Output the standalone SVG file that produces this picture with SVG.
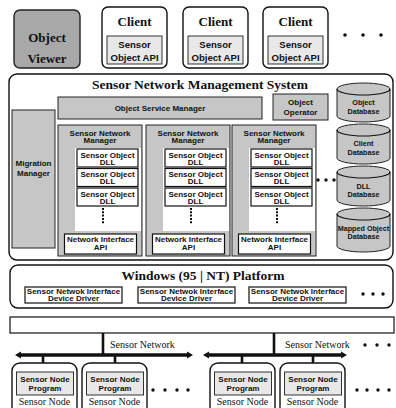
<svg xmlns="http://www.w3.org/2000/svg" width="396" height="408" viewBox="0 0 396 408">
  <style>
    .ln { fill: none; stroke: #111; stroke-width: 1.2; }
    .grey { fill: #c6c6c6; stroke: #222; stroke-width: 1; }
    .dark { fill: #a8a8a8; stroke: #222; stroke-width: 1.4; }
    .light { fill: #e8e8e8; stroke: #333; stroke-width: 1; }
    .white { fill: #fff; stroke: #111; stroke-width: 1.2; }
    .panel { fill: #fff; stroke: none; }
    .frame { fill: #fff; stroke: #111; stroke-width: 1.4; }
    .title { font-family: "Liberation Serif", "Times New Roman", serif; font-weight: bold; font-size: 13.5px; fill: #111; text-anchor: middle; }
    .head { font-family: "Liberation Serif", "Times New Roman", serif; font-weight: bold; font-size: 13px; fill: #111; text-anchor: middle; }
    .lbl { font-family: "Liberation Sans", Arial, sans-serif; font-weight: bold; font-size: 8px; fill: #111; text-anchor: middle; }
    .lbl9 { font-family: "Liberation Sans", Arial, sans-serif; font-weight: bold; font-size: 9.6px; fill: #111; text-anchor: middle; }
    .db { font-family: "Liberation Sans", Arial, sans-serif; font-weight: bold; font-size: 7.2px; fill: #111; text-anchor: middle; }
    .ser { font-family: "Liberation Serif", "Times New Roman", serif; font-size: 10px; fill: #111; }
    .dot { fill: #111; }
    .wire { stroke: #111; stroke-width: 2.6; fill: none; }
    .dash { stroke: #111; stroke-width: 2; stroke-dasharray: 2 1.3; fill: none; }
  </style>
  <defs>
    <!-- one Sensor Network Manager block, drawn at the origin -->
    <g id="snm">
      <rect class="grey" x="0" y="0" width="84" height="131"/>
      <rect class="panel" x="17" y="23" width="66" height="83"/>
      <text class="lbl" x="42" y="10.5">Sensor Network</text>
      <text class="lbl" x="42" y="18">Manager</text>
      <rect class="white" x="19" y="24" width="61" height="18"/>
      <text class="lbl" x="49.5" y="32.5">Sensor Object</text>
      <text class="lbl" x="49.5" y="39.5">DLL</text>
      <rect class="white" x="19" y="43.5" width="61" height="18"/>
      <text class="lbl" x="49.5" y="52">Sensor Object</text>
      <text class="lbl" x="49.5" y="59">DLL</text>
      <rect class="white" x="19" y="63" width="61" height="18"/>
      <text class="lbl" x="49.5" y="71.5">Sensor Object</text>
      <text class="lbl" x="49.5" y="78.5">DLL</text>
      <line class="dash" x1="45" y1="83" x2="45" y2="99"/>
      <rect class="white" x="6.5" y="109" width="72" height="20" stroke-width="1.6"/>
      <text class="lbl" x="42.5" y="117">Network Interface</text>
      <text class="lbl" x="42.5" y="124.5">API</text>
    </g>
    <!-- client application with its API box -->
    <g id="client">
      <rect class="frame" x="0" y="0" width="65" height="61" rx="6"/>
      <text class="head" x="32.5" y="19">Client</text>
      <rect class="light" x="5" y="29" width="55" height="28"/>
      <text class="lbl9" x="32.5" y="41">Sensor</text>
      <text class="lbl9" x="32.5" y="54">Object API</text>
    </g>
    <!-- sensor node with its program -->
    <g id="node">
      <rect class="frame" x="0" y="0" width="65" height="60" rx="8"/>
      <rect class="light" x="4.5" y="9" width="57" height="23" stroke-width="1.3"/>
      <text class="lbl" x="33" y="18.5">Sensor Node</text>
      <text class="lbl" x="33" y="28">Program</text>
      <text class="ser" x="32.5" y="42" text-anchor="middle">Sensor Node</text>
    </g>
    <!-- driver box -->
    <g id="drv">
      <rect class="white" x="0" y="0" width="97" height="16" stroke-width="1"/>
      <text class="lbl" x="48.5" y="7.2">Sensor Netwok Interface</text>
      <text class="lbl" x="48.5" y="14.4">Device Driver</text>
    </g>
  </defs>

  <!-- top row: viewer and clients -->
  <g id="object-viewer">
    <rect class="dark" x="14" y="10" width="66" height="58" rx="6"/>
    <text class="head" x="47" y="42" font-size="14.5">Object</text>
    <text class="head" x="47" y="63" font-size="14.5">Viewer</text>
  </g>
  <g id="client-1"><use href="#client" x="102" y="7"/></g>
  <g id="client-2"><use href="#client" x="183" y="7"/></g>
  <g id="client-3"><use href="#client" x="263" y="7"/></g>
  <g id="client-more">
    <circle class="dot" cx="345" cy="35" r="1.8"/>
    <circle class="dot" cx="363" cy="35" r="1.8"/>
    <circle class="dot" cx="381" cy="35" r="1.8"/>
  </g>

  <!-- management system -->
  <g id="sensor-network-management-system">
    <rect class="frame" x="9" y="74" width="384" height="186" rx="8"/>
    <text class="title" x="200" y="89">Sensor Network Management System</text>
  </g>
  <g id="object-service-manager">
    <rect class="grey" x="58" y="97" width="204" height="22"/>
    <text class="lbl" x="160" y="111">Object Service Manager</text>
  </g>
  <g id="object-operator">
    <rect class="grey" x="273" y="94" width="55" height="26"/>
    <text class="lbl" x="300.5" y="105">Object</text>
    <text class="lbl" x="300.5" y="115">Operator</text>
  </g>
  <g id="migration-manager">
    <rect class="grey" x="12" y="110" width="43" height="138"/>
    <text class="lbl" x="33.5" y="166">Migration</text>
    <text class="lbl" x="33.5" y="175.5">Manager</text>
  </g>
  <g id="snm-1"><use href="#snm" x="58" y="125"/></g>
  <g id="snm-2"><use href="#snm" x="146" y="125"/></g>
  <g id="snm-3"><use href="#snm" x="232" y="125"/></g>
  <g id="snm-more">
    <circle class="dot" cx="318" cy="180" r="1.7"/>
    <circle class="dot" cx="326" cy="180" r="1.7"/>
    <circle class="dot" cx="334" cy="180" r="1.7"/>
  </g>

  <!-- databases -->
  <g id="object-database">
    <path class="grey" d="M337,89 A26.5,6 0 0 1 390,89 L390,116 A26.5,6 0 0 1 337,116 Z"/>
    <path class="ln" d="M337,89 A26.5,6 0 0 0 390,89"/>
    <text class="db" x="363.5" y="104.5">Object</text>
    <text class="db" x="363.5" y="114">Database</text>
  </g>
  <g id="client-database">
    <path class="grey" d="M337,130 A26.5,6 0 0 1 390,130 L390,158 A26.5,6 0 0 1 337,158 Z"/>
    <path class="ln" d="M337,130 A26.5,6 0 0 0 390,130"/>
    <text class="db" x="363.5" y="145.5">Client</text>
    <text class="db" x="363.5" y="154.5">Database</text>
  </g>
  <g id="dll-database">
    <path class="grey" d="M337,172 A26.5,6 0 0 1 390,172 L390,200 A26.5,6 0 0 1 337,200 Z"/>
    <path class="ln" d="M337,172 A26.5,6 0 0 0 390,172"/>
    <text class="db" x="363.5" y="188.5">DLL</text>
    <text class="db" x="363.5" y="197">Database</text>
  </g>
  <g id="mapped-object-database">
    <path class="grey" d="M337,214 A26.5,6 0 0 1 390,214 L390,246 A26.5,6 0 0 1 337,246 Z"/>
    <path class="ln" d="M337,214 A26.5,6 0 0 0 390,214"/>
    <text class="db" x="363.5" y="231">Mapped Object</text>
    <text class="db" x="363.5" y="239">Database</text>
  </g>

  <!-- operating system layer -->
  <g id="windows-platform">
    <rect class="frame" x="10" y="265" width="383" height="43" rx="8"/>
    <text class="title" x="203" y="279.5" font-size="13px">Windows (95 | NT) Platform</text>
  </g>
  <g id="driver-1"><use href="#drv" x="25" y="287"/></g>
  <g id="driver-2"><use href="#drv" x="138" y="287"/></g>
  <g id="driver-3"><use href="#drv" x="249" y="287"/></g>
  <g id="driver-more">
    <circle class="dot" cx="363" cy="294" r="1.7"/>
    <circle class="dot" cx="373" cy="294" r="1.7"/>
    <circle class="dot" cx="383" cy="294" r="1.7"/>
  </g>
  <g id="hardware-interface">
    <rect class="white" x="10" y="317" width="384" height="16"/>
  </g>

  <!-- connectors: uplinks, network buses and node drops -->
  <g id="connectors">
    <line class="wire" x1="103" y1="333" x2="103" y2="355"/>
    <line class="wire" x1="274" y1="333" x2="274" y2="355"/>
    <path fill="#111" d="M15,355 L21,351.5 L21,353.2 L187,353.2 L187,351.5 L193,355 L187,358.5 L187,356.8 L21,356.8 L21,358.5 Z"/>
    <path fill="#111" d="M203,355 L209,351.5 L209,353.2 L341,353.2 L341,351.5 L347,355 L341,358.5 L341,356.8 L209,356.8 L209,358.5 Z"/>
    <line class="wire" x1="43" y1="356" x2="43" y2="364"/>
    <line class="wire" x1="115" y1="356" x2="115" y2="364"/>
    <line class="wire" x1="242" y1="356" x2="242" y2="364"/>
    <line class="wire" x1="313" y1="356" x2="313" y2="364"/>
  </g>
  <g id="network-labels">
    <text class="ser" x="110" y="348">Sensor Network</text>
    <text class="ser" x="285" y="348">Sensor Network</text>
    <circle class="dot" cx="365" cy="345" r="1.7"/>
    <circle class="dot" cx="377" cy="345" r="1.7"/>
    <circle class="dot" cx="389" cy="345" r="1.7"/>
  </g>

  <!-- sensor nodes -->
  <g id="node-1"><use href="#node" x="12" y="363"/></g>
  <g id="node-2"><use href="#node" x="82" y="363"/></g>
  <g id="node-3"><use href="#node" x="210" y="363"/></g>
  <g id="node-4"><use href="#node" x="280" y="363"/></g>
  <g id="node-more">
    <circle class="dot" cx="153" cy="390" r="1.7"/>
    <circle class="dot" cx="165" cy="390" r="1.7"/>
    <circle class="dot" cx="177" cy="390" r="1.7"/>
    <circle class="dot" cx="188" cy="390" r="1.7"/>
    <circle class="dot" cx="357" cy="390" r="1.7"/>
    <circle class="dot" cx="367" cy="390" r="1.7"/>
    <circle class="dot" cx="378" cy="390" r="1.7"/>
    <circle class="dot" cx="389" cy="390" r="1.7"/>
  </g>
</svg>
